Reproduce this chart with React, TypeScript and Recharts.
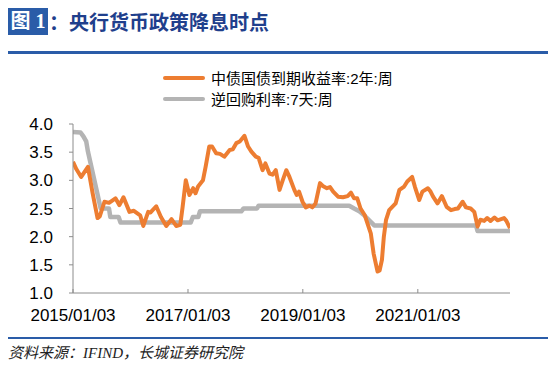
import { LineChart, Line, XAxis, YAxis } from 'recharts';

// 中债国债到期收益率:2年:周
const bondDates = [
  '2015-01-03', '2015-01-24', '2015-02-24', '2015-04-08', '2015-05-08', '2015-06-08', '2015-06-22',
  '2015-07-22', '2015-08-20', '2015-09-30', '2015-10-25', '2015-11-20', '2015-12-28', '2016-01-25',
  '2016-03-05', '2016-03-25', '2016-04-25', '2016-05-10', '2016-06-15', '2016-07-15', '2016-08-18',
  '2016-09-20', '2016-10-20', '2016-11-15', '2016-11-30', '2016-12-20', '2017-01-12', '2017-02-05',
  '2017-02-20', '2017-03-08', '2017-04-08', '2017-04-25', '2017-05-18', '2017-06-05', '2017-07-01',
  '2017-07-25', '2017-08-22', '2017-09-25', '2017-10-15', '2017-11-06', '2017-11-28', '2017-12-28',
  '2018-01-20', '2018-02-10', '2018-03-10', '2018-03-28', '2018-04-22', '2018-05-10', '2018-06-05',
  '2018-06-25', '2018-07-15', '2018-08-08', '2018-08-28', '2018-09-20', '2018-10-10', '2018-11-10',
  '2018-11-25', '2018-12-10', '2019-01-01', '2019-01-22', '2019-02-15', '2019-03-05', '2019-03-25',
  '2019-04-22', '2019-05-10', '2019-06-05', '2019-06-25', '2019-07-15', '2019-08-15', '2019-09-15',
  '2019-10-15', '2019-11-05', '2019-11-25', '2019-12-15', '2020-01-05', '2020-02-01', '2020-03-10',
  '2020-03-28', '2020-04-22', '2020-05-05', '2020-05-20', '2020-06-01', '2020-06-15', '2020-07-05',
  '2020-08-15', '2020-09-08', '2020-10-08', '2020-10-28', '2020-11-28', '2020-12-15', '2021-01-12',
  '2021-02-01', '2021-03-08', '2021-03-25', '2021-04-10', '2021-05-08', '2021-06-05', '2021-07-05',
  '2021-08-02', '2021-08-25', '2021-09-15', '2021-10-15', '2021-11-05', '2021-12-05', '2021-12-28',
  '2022-01-18', '2022-02-05', '2022-03-01', '2022-03-20', '2022-04-10', '2022-05-05', '2022-05-25',
  '2022-07-05', '2022-07-20', '2022-08-12',
];
const bondYield = [
  3.33, 3.2, 3.06, 3.24, 2.77, 2.33, 2.36,
  2.62, 2.6, 2.68, 2.56, 2.7, 2.44, 2.46,
  2.38, 2.19, 2.44, 2.43, 2.54, 2.35, 2.19,
  2.31, 2.19, 2.21, 2.53, 3.0, 2.74, 2.86,
  2.77, 2.89, 3.0, 3.24, 3.6, 3.6, 3.48,
  3.47, 3.42, 3.54, 3.55, 3.66, 3.69, 3.79,
  3.6, 3.51, 3.42, 3.4, 3.18, 3.3, 3.12,
  3.1, 3.18, 2.83, 3.0, 3.18, 3.06, 2.83,
  2.74, 2.8, 2.62, 2.52, 2.55, 2.52, 2.59,
  2.95, 2.9, 2.86, 2.88, 2.8, 2.71, 2.7,
  2.72, 2.78, 2.68, 2.68, 2.5, 2.38, 2.06,
  1.7, 1.38, 1.4, 1.59, 2.0, 2.3, 2.47,
  2.59, 2.83, 2.89, 2.98, 3.06, 2.89, 2.65,
  2.8, 2.86, 2.8, 2.71, 2.59, 2.72, 2.53,
  2.47, 2.49, 2.5, 2.62, 2.52, 2.5, 2.44,
  2.18, 2.3, 2.28, 2.33, 2.28, 2.34, 2.29,
  2.33, 2.28, 2.15,
];

// 逆回购利率:7天:周
const repoDates = [
  '2015-01-03', '2015-02-20', '2015-03-10', '2015-03-28', '2015-04-08', '2015-06-28', '2015-08-20',
  '2015-08-28', '2015-10-20', '2015-11-01', '2017-01-20', '2017-02-03', '2017-03-10', '2017-03-20',
  '2017-12-08', '2017-12-22', '2018-03-18', '2018-03-28', '2019-10-25', '2019-11-25', '2019-12-28',
  '2020-01-28', '2020-04-01', '2022-01-08', '2022-01-18', '2022-08-12',
];
const repoRate = [
  3.86, 3.85, 3.78, 3.69, 3.51, 2.5, 2.5,
  2.35, 2.35, 2.25, 2.25, 2.35, 2.35, 2.45,
  2.45, 2.5, 2.5, 2.55, 2.55, 2.5, 2.45,
  2.38, 2.2, 2.2, 2.1, 2.1,
];

const xTickDates = ['2015-01-03', '2017-01-03', '2019-01-03', '2021-01-03'];
const yTicks = [1.0, 1.5, 2.0, 2.5, 3.0, 3.5, 4.0];

const toMs = (d: string) => {
  const [y, m, dd] = d.split('-').map(Number);
  return Date.UTC(y, m - 1, dd);
};
const fmtDate = (ms: number) => {
  const d = new Date(ms);
  const p = (n: number) => String(n).padStart(2, '0');
  return `${d.getUTCFullYear()}/${p(d.getUTCMonth() + 1)}/${p(d.getUTCDate())}`;
};

const bondData = bondDates.map((d, i) => ({ t: toMs(d), v: bondYield[i] }));
const repoData = repoDates.map((d, i) => ({ t: toMs(d), v: repoRate[i] }));

const ORANGE = '#ED7D31';
const GREY = '#B4B4B4';
const BLUE = '#2A5CA8';
const SANS = '"Liberation Sans", Arial, "Noto Sans CJK SC", sans-serif';

export default function App() {
  return (
    <div style={{ position: 'absolute', left: 0, top: 0, width: 550, height: 368, background: '#fff', overflow: 'hidden' }}>
      {/* title */}
      <div style={{ position: 'absolute', left: 8, top: 8, width: 40, height: 27, background: BLUE, color: '#fff',
        fontFamily: '"Liberation Serif", "Noto Sans CJK SC", serif', fontWeight: 700, fontSize: 20, lineHeight: '27px', textAlign: 'center' }}>
        图 1
      </div>
      <div style={{ position: 'absolute', left: 49, top: 8, height: 27, lineHeight: '27px', color: '#1F3F8C',
        fontFamily: '"Noto Sans CJK SC", serif', fontWeight: 700, fontSize: 20, whiteSpace: 'nowrap' }}>
        ：央行货币政策降息时点
      </div>
      <div style={{ position: 'absolute', left: 8, top: 51, width: 540, height: 3, background: BLUE }} />

      {/* legend */}
      {[{ c: ORANGE, t: '中债国债到期收益率:2年:周', y: 67 }, { c: GREY, t: '逆回购利率:7天:周', y: 88 }].map((l) => (
        <div key={l.t} style={{ position: 'absolute', left: 163, top: l.y, height: 21, display: 'flex', alignItems: 'center',
          fontFamily: SANS, fontSize: 15, color: '#000', whiteSpace: 'nowrap' }}>
          <span style={{ display: 'inline-block', width: 42, height: 4, background: l.c, marginRight: 6, borderRadius: 2 }} />
          {l.t}
        </div>
      ))}

      <div style={{ position: 'absolute', left: 0, top: 0 }}>
        <LineChart width={550} height={368} margin={{ top: 124, right: 40, bottom: 45, left: 13 }}>
          <XAxis
            type="number"
            dataKey="t"
            domain={[toMs('2015-01-03'), toMs('2022-08-12')]}
            ticks={xTickDates.map(toMs)}
            tickFormatter={fmtDate}
            allowDataOverflow
            stroke="#8C8C8C"
            tickSize={-4}
            tickMargin={20}
            height={30}
            tick={{ fill: '#000', fontSize: 17, fontFamily: SANS }}
          />
          <YAxis
            type="number"
            domain={[1, 4]}
            ticks={yTicks}
            tickFormatter={(v: number) => v.toFixed(1)}
            allowDataOverflow
            stroke="#8C8C8C"
            width={60}
            tickSize={4}
            tickMargin={16}
            tick={{ fill: '#000', fontSize: 17, fontFamily: SANS }}
          />
          <Line data={repoData} dataKey="v" type="linear" stroke={GREY} strokeWidth={4.5} dot={false}
            isAnimationActive={false} strokeLinejoin="round" />
          <Line data={bondData} dataKey="v" type="linear" stroke={ORANGE} strokeWidth={4} dot={false}
            isAnimationActive={false} strokeLinejoin="round" />
        </LineChart>
      </div>

      {/* footer */}
      <div style={{ position: 'absolute', left: 8, top: 337, width: 540, height: 2, background: BLUE }} />
      <div style={{ position: 'absolute', left: 8, top: 341, fontFamily: '"Liberation Serif", "Noto Sans CJK SC", serif',
        fontStyle: 'italic', fontSize: 15, color: '#222', whiteSpace: 'nowrap' }}>
        资料来源：IFIND，长城证券研究院
      </div>
    </div>
  );
}
